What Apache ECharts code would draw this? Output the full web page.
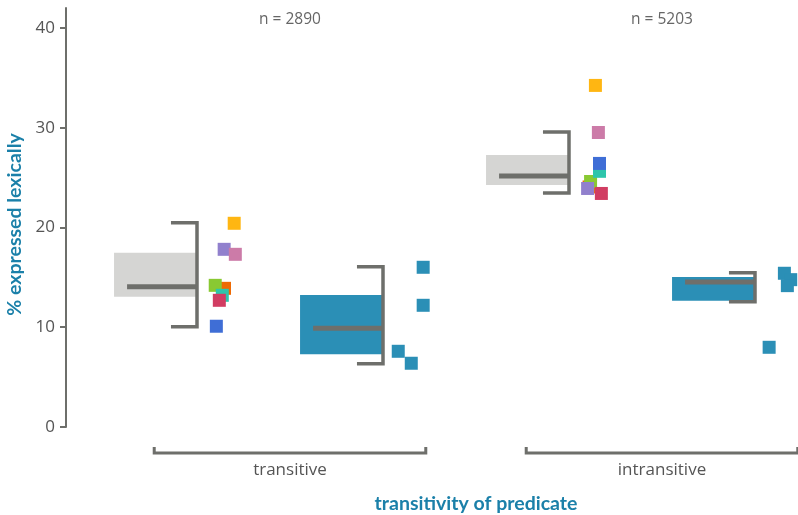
<!DOCTYPE html>
<html>
<head>
<meta charset="utf-8">
<script src="https://cdn.jsdelivr.net/npm/echarts@6/dist/echarts.min.js"></script>
<style>
  html, body { margin: 0; padding: 0; background: #fff; }
  #chart { width: 798px; height: 515px; }
</style>
</head>
<body>
<div id="chart"></div>
<script>
// groups on the x axis (positions 1 and 2)
var groups = ['transitive', 'intransitive'];
var groupPos = [1, 2];
var groupN = ['n = 2890', 'n = 5203'];
var yTicks = [0, 10, 20, 30, 40];

// summary for all languages (grey) : position, box low, box high, median, bracket low, bracket high
var allPos = [0.75, 1.75];
var allBoxLow = [13.06, 24.26];
var allBoxHigh = [17.47, 27.27];
var allMedian = [14.07, 25.16];
var allLow = [10.06, 23.46];
var allHigh = [20.48, 29.57];

// summary for the highlighted language (blue)
var selPos = [1.25, 2.25];
var selBoxLow = [7.29, 12.66];
var selBoxHigh = [13.23, 15.04];
var selMedian = [9.89, 14.54];
var selLow = [6.35, 12.56];
var selHigh = [16.07, 15.47];

// single languages, jittered x, value
var langOrangeRed = [[0.824, 13.90], [1.804, 24.06]];
var langGreen = [[0.799, 14.20], [1.808, 24.61]];
var langTeal = [[0.818, 13.20], [1.832, 25.63]];
var langBlue = [[0.802, 10.10], [1.832, 26.42]];
var langPurple = [[0.823, 17.81], [1.800, 23.91]];
var langCrimson = [[0.810, 12.70], [1.837, 23.41]];
var langPink = [[0.853, 17.31], [1.829, 29.52]];
var langYellow = [[0.850, 20.42], [1.821, 34.24]];

// points of the highlighted language
var selPoints = [[1.358, 16.01], [1.358, 12.20], [1.291, 7.59], [1.326, 6.39],
                 [2.329, 15.41], [2.346, 14.77], [2.337, 14.17], [2.288, 7.99]];

var lineColor = '#6e6f6b';
var textGrey = '#555';
var titleBlue = '#1b80a9';
var fontFamily = '"Open Sans", Lato, sans-serif';
var boldFamily = 'Lato, "Open Sans", sans-serif';

var boxWidth = 0.223, medianLen = 0.188, whiskerLen = 0.07, groupHalf = 0.365;

function zip() {
    var cols = arguments, out = [];
    for (var i = 0; i < cols[0].length; i++) {
        var row = [];
        for (var j = 0; j < cols.length; j++) row.push(cols[j][i]);
        out.push(row);
    }
    return out;
}

function renderSummary(params, api) {
    var x = api.value(0);
    var tl = api.coord([x - boxWidth, api.value(2)]);
    var br = api.coord([x, api.value(1)]);
    var m0 = api.coord([x - medianLen, api.value(3)]);
    var m1 = api.coord([x, api.value(3)]);
    var w0 = api.coord([x - whiskerLen, api.value(5)]);
    var w1 = api.coord([x, api.value(5)]);
    var w2 = api.coord([x, api.value(4)]);
    var w3 = api.coord([x - whiskerLen, api.value(4)]);
    return {
        type: 'group',
        children: [
            { type: 'rect', shape: { x: tl[0], y: tl[1], width: br[0] - tl[0], height: br[1] - tl[1] },
              style: { fill: api.visual('color') } },
            { type: 'line', shape: { x1: m0[0], y1: m0[1], x2: m1[0], y2: m1[1] },
              style: { stroke: lineColor, lineWidth: 5 } },
            { type: 'polyline', shape: { points: [w0, w1, w2, w3] },
              style: { stroke: lineColor, lineWidth: 3.5, fill: null } }
        ]
    };
}

// bracket under each group + n label on top
function renderGroup(params, api) {
    var g = api.value(0);
    var a = api.coord([g - groupHalf, 0]);
    var b = api.coord([g + groupHalf, 0]);
    var y = a[1] + 26;
    var top = api.coord([g, 40.8]);
    return {
        type: 'group',
        children: [
            { type: 'polyline', shape: { points: [[a[0], y - 6], [a[0], y], [b[0], y], [b[0], y - 6]] },
              style: { stroke: lineColor, lineWidth: 3, fill: null } },
            { type: 'text', x: top[0], y: top[1],
              style: { text: groupN[params.dataIndex], fill: '#666', font: '15.5px ' + fontFamily,
                       align: 'center', verticalAlign: 'middle' } }
        ]
    };
}

function langSeries(data, color) {
    return {
        type: 'scatter',
        data: data,
        symbol: 'rect',
        symbolSize: 13,
        itemStyle: { color: color, opacity: 1 },
        z: 5
    };
}

var myChart = echarts.init(document.getElementById('chart'));

var option = {
    animation: false,
    textStyle: { fontFamily: fontFamily },
    grid: { left: 104, top: 8, width: 744, bottom: 88, outerBoundsMode: 'none', containLabel: false },
    xAxis: {
        type: 'value',
        min: 0.5,
        max: 2.5,
        name: 'transitivity of predicate',
        nameLocation: 'middle',
        nameGap: 67,
        nameTextStyle: { color: titleBlue, fontSize: 19.5, fontWeight: 'bold', fontFamily: boldFamily },
        axisLine: { show: false },
        axisTick: { show: false },
        splitLine: { show: false },
        axisLabel: {
            customValues: groupPos,
            formatter: function (v) { return groups[groupPos.indexOf(v)]; },
            color: textGrey,
            fontSize: 17,
            margin: 35
        }
    },
    yAxis: {
        type: 'value',
        min: 0,
        max: 42,
        offset: 38,
        name: '% expressed lexically',
        nameLocation: 'middle',
        nameGap: 38,
        nameTextStyle: { color: titleBlue, fontSize: 19.5, fontWeight: 'bold', fontFamily: boldFamily,
                         padding: [0, 14, 0, 0] },
        axisLine: { show: true, lineStyle: { color: lineColor, width: 2 } },
        axisTick: { show: true, customValues: yTicks, length: 6, lineStyle: { color: lineColor, width: 2 } },
        axisLabel: { customValues: yTicks, color: textGrey, fontSize: 17, margin: 11 },
        splitLine: { show: false }
    },
    series: [
        { type: 'custom', renderItem: renderGroup, data: groupPos.map(function (g) { return [g]; }), clip: false, silent: true },
        { type: 'custom', renderItem: renderSummary, itemStyle: { color: '#d5d5d3' },
          data: zip(allPos, allBoxLow, allBoxHigh, allMedian, allLow, allHigh), clip: false, silent: true },
        { type: 'custom', renderItem: renderSummary, itemStyle: { color: '#2b8fb6' },
          data: zip(selPos, selBoxLow, selBoxHigh, selMedian, selLow, selHigh), clip: false, silent: true },
        langSeries(langOrangeRed, '#ee6a04'),
        langSeries(langGreen, '#89c932'),
        langSeries(langTeal, '#2ec5ab'),
        langSeries(langBlue, '#3f6ed6'),
        langSeries(langPurple, '#9180cd'),
        langSeries(langCrimson, '#d13d62'),
        langSeries(langPink, '#cc7ba8'),
        langSeries(langYellow, '#ffb612'),
        langSeries(selPoints, '#2b8fb6')
    ]
};

myChart.setOption(option);
window.addEventListener('resize', function () {
    myChart.resize();
});
</script>
</body>
</html>
